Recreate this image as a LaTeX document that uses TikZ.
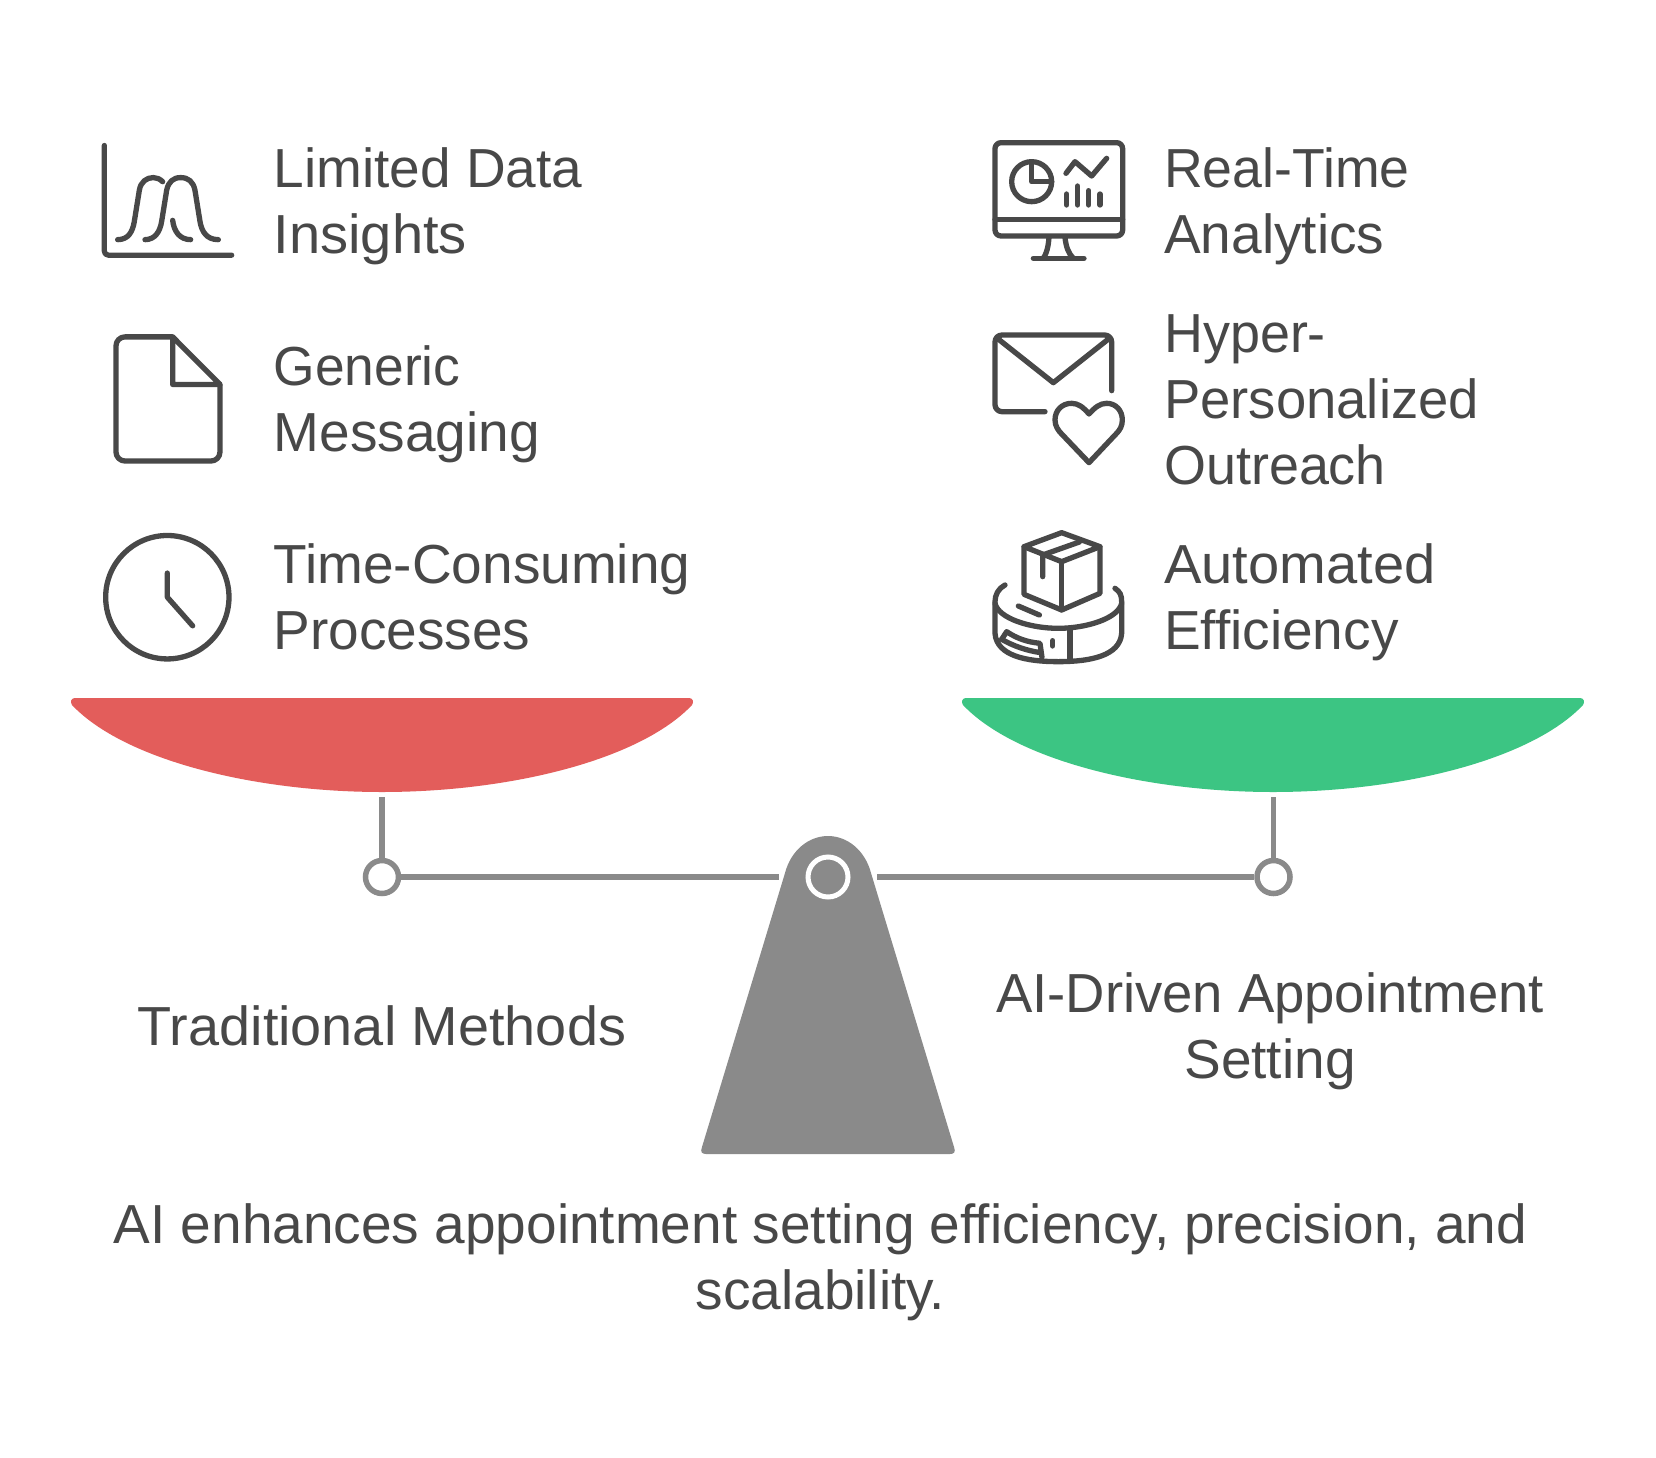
\documentclass[tikz,border=0pt]{standalone}
\usepackage{fontspec}
\setmainfont{Liberation Sans}
\definecolor{ink}{HTML}{484848}
\definecolor{beam}{HTML}{8A8A8A}
\definecolor{redpan}{HTML}{E35D5B}
\definecolor{greenpan}{HTML}{3CC583}
\newcommand{\sw}[2]{{\addfontfeature{FakeStretch=#1}#2}}
\tikzset{
  icon/.style={draw=ink,line width=5.3pt,line cap=round,line join=round},
  label/.style={text=ink,inner sep=0pt,font=\fontsize{55}{66}\selectfont},
  leftlabel/.style={label,align=left,anchor=west},
  midlabel/.style={label,align=center,anchor=center},
  beamline/.style={draw=beam,line width=5.5pt},
  pivot/.style={circle,draw=beam,fill=white,line width=5.5pt,minimum size=33pt,inner sep=0pt}
}
\begin{document}
\begin{tikzpicture}[x=1pt,y=-1pt]
\useasboundingbox[fill=white] (0,0) rectangle (1656,1458);
% texts
\node[leftlabel] (t1) at (273.5,206) {Limited Data\\\sw{1.02}{Insights}};
\node[leftlabel] (t2) at (273.5,404) {\sw{0.97}{Generic}\\Messaging};
\node[leftlabel] (t3) at (273.5,597) {Time-Consuming\\Processes};
\node[leftlabel] (t4) at (1164,206) {\sw{0.975}{Real-Time}\\Analytics};
\node[leftlabel] (t5) at (1164,400) {\sw{0.98}{Hyper-}\\\sw{0.99}{Personalized}\\\sw{0.98}{Outreach}};
\node[leftlabel] (t6) at (1164,602.5) {\sw{1.02}{Automated}\\Efficiency};
\node[midlabel] (m1) at (382,1026) {\sw{1.015}{Traditional Methods}};
\node[midlabel] (m2) at (1270,1031) {\sw{0.99}{AI-Driven Appointment}\\Setting};
\node[midlabel] (m3) at (820.5,1262) {AI enhances appointment setting efficiency, precision, and\\scalability.};
% pans
\fill[redpan] (75,698) -- (689,698) .. controls (693,698) and (694,702) .. (692,705)
  .. controls (640,760) and (510,792) .. (382,792)
  .. controls (254,792) and (124,760) .. (72,705)
  .. controls (70,702) and (71,698) .. (75,698) -- cycle;
\fill[greenpan] (966,698) -- (1580,698) .. controls (1584,698) and (1585,702) .. (1583,705)
  .. controls (1531,760) and (1401,792) .. (1273,792)
  .. controls (1145,792) and (1015,760) .. (963,705)
  .. controls (961,702) and (962,698) .. (966,698) -- cycle;
% beam
\coordinate (ptop1) at (382,797);
\coordinate (ptop2) at (1273.5,797);
\coordinate (bl) at (778.5,877);
\coordinate (br) at (877,877);
\node[pivot] (p1) at (382,877) {};
\node[pivot] (p2) at (1273.5,877) {};
\draw[beamline] (ptop1) -- (p1);
\draw[beamline] (ptop2) -- (p2);
\draw[beamline] (p1) -- (bl);
\draw[beamline] (p2) -- (br);
% fulcrum
\fill[beam] (706,1154) .. controls (702,1154) and (700,1152) .. (702,1147)
  -- (785,873) .. controls (791,850) and (809,836) .. (828,836)
  .. controls (847,836) and (865,850) .. (871,873)
  -- (954,1147) .. controls (956,1152) and (954,1154) .. (950,1154) -- cycle;
\node[circle,draw=white,fill=beam,line width=5pt,minimum size=40pt,inner sep=0pt] (hub) at (828,877) {};
% chart icon
\begin{scope}[shift={(90,130)},x=0.3333pt,y=-0.3448pt]
\draw[icon,rounded corners=4pt] (43,45) -- (43,363) -- (425,363);
\draw[icon] (83,318) .. controls (115,318) and (128,295) .. (133,265) -- (148,175) .. controls (152,150) and (170,138) .. (190,138) .. controls (200,138) and (210,142) .. (218,150);
\draw[icon] (165,318) .. controls (195,318) and (210,295) .. (215,265) -- (230,175) .. controls (235,150) and (250,138) .. (272,138) .. controls (295,138) and (310,150) .. (315,175) -- (330,265) .. controls (335,295) and (350,318) .. (385,318);
\draw[icon] (248,262) .. controls (252,295) and (270,318) .. (302,318);
% document icon
\draw[icon,rounded corners=9pt] (248,600) -- (78,600) -- (78,960) -- (390,960) -- (390,738);
\draw[icon] (248,600) -- (390,738) -- (248,738) -- cycle;
% clock icon
\draw[icon] (232,1355) circle[x radius=185,y radius=179];
\draw[icon] (232,1285) -- (232,1355) -- (308,1438);
\end{scope}
% monitor icon
\begin{scope}[shift={(980,130)},x=0.3333pt,y=-0.3333pt]
\draw[icon,rounded corners=6pt] (45,38) rectangle (428,318);
\draw[icon] (45,268) -- (428,268);
\draw[icon] (155,155) circle[radius=60];
\draw[icon] (155,95) -- (155,155) -- (215,155);
\draw[icon] (258,130) -- (285,95) -- (335,138) -- (380,85);
\draw[icon] (260,192) -- (260,225);
\draw[icon] (293,168) -- (293,225);
\draw[icon] (326,182) -- (326,225);
\draw[icon] (360,192) -- (360,225);
\draw[icon] (207,322) .. controls (205,350) and (200,370) .. (190,385);
\draw[icon] (255,322) .. controls (258,350) and (265,370) .. (280,385);
\draw[icon] (160,385) -- (312,385);
\end{scope}
% mail icon
\begin{scope}[shift={(980,320)},x=0.3333pt,y=-0.3333pt]
\draw[icon,rounded corners=7pt] (195,275) -- (45,275) -- (45,45) -- (395,45) -- (395,212);
\draw[icon] (52,55) -- (220,188) -- (388,55);
\draw[icon] (327,282) .. controls (310,262) and (295,250) .. (275,250) .. controls (245,250) and (225,272) .. (225,300) .. controls (225,318) and (235,332) .. (245,342) -- (327,428) -- (408,342) .. controls (420,330) and (427,318) .. (427,300) .. controls (427,272) and (408,250) .. (380,250) .. controls (360,250) and (345,262) .. (327,282) -- cycle;
\end{scope}
% box icon
\begin{scope}[shift={(980,520)},x=0.3333pt,y=-0.3333pt]
\draw[icon] (245,38) -- (360,80) -- (245,125) -- (132,80) -- cycle;
\draw[icon] (132,80) -- (132,223) -- (245,270) -- (360,220) -- (360,80);
\draw[icon] (245,125) -- (245,270);
\draw[icon] (188,170) -- (188,105) -- (298,66);
\draw[icon] (75,195) .. controls (55,205) and (45,225) .. (45,245) -- (45,340) .. controls (50,408) and (140,425) .. (235,425) .. controls (330,425) and (420,408) .. (425,340) -- (425,245) .. controls (425,225) and (420,215) .. (405,205);
\draw[icon] (45,250) .. controls (55,295) and (150,325) .. (235,325) .. controls (320,325) and (415,295) .. (425,250);
\draw[icon] (270,325) -- (270,420);
\draw[icon] (218,362) -- (218,378);
\draw[icon] (115,258) -- (178,285);
\draw[icon] (65,358) -- (80,335) .. controls (110,355) and (140,366) .. (180,370) -- (186,412);
\draw[icon] (65,358) .. controls (100,378) and (140,392) .. (182,398);
\end{scope}
\end{tikzpicture}
\end{document}
